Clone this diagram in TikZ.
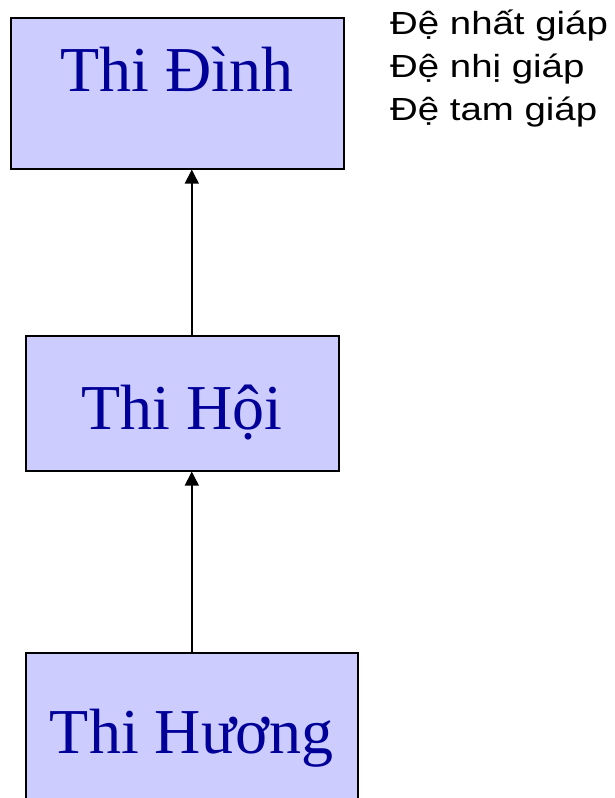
\documentclass[tikz,border=0pt]{standalone}
\usepackage{fontspec}
\usepackage{xcolor}
\usetikzlibrary{arrows.meta}
\setmainfont{Liberation Serif}
\newfontfamily\giapfont[FakeStretch=1.2]{Liberation Sans}
\definecolor{cLavender}{RGB}{204,204,255}
\definecolor{cNavy}{RGB}{0,0,153}

\begin{document}
\begin{tikzpicture}[x=1pt, y=-1pt,
        kythi/.style={draw=black, line width=1.6pt, fill=cLavender, text=cNavy,
            inner sep=0pt, anchor=north west,
            font=\fontsize{64}{70}\selectfont},
        muiten/.style={line width=1.5pt, -{Triangle[length=14pt,width=14pt]}}]
        \useasboundingbox (0,0) rectangle (615,798);
        \clip (0,0) rectangle (615,798);
        \node[kythi, minimum width=333pt, text height=74pt, text depth=77pt] (dinh) at (10,17) {Thi Đình};
        \node[kythi, minimum width=313pt, text height=94pt, text depth=41pt] (hoi) at (25,335) {Thi Hội};
        \node[kythi, minimum width=332pt, text height=101pt, text depth=52pt] (huong) at (25,652) {Thi Hương};
        \draw[muiten] (huong.north) -- (hoi.south -| huong.north);
        \draw[muiten] (hoi.north -| huong.north) -- (dinh.south -| huong.north);
        \node[anchor=base west, align=left, inner sep=0pt,
            font=\giapfont\fontsize{32}{43}\selectfont] (giap) at (390,120)
            {Đệ nhất giáp\\Đệ nhị giáp\\Đệ tam giáp};
\end{tikzpicture}
\end{document}
